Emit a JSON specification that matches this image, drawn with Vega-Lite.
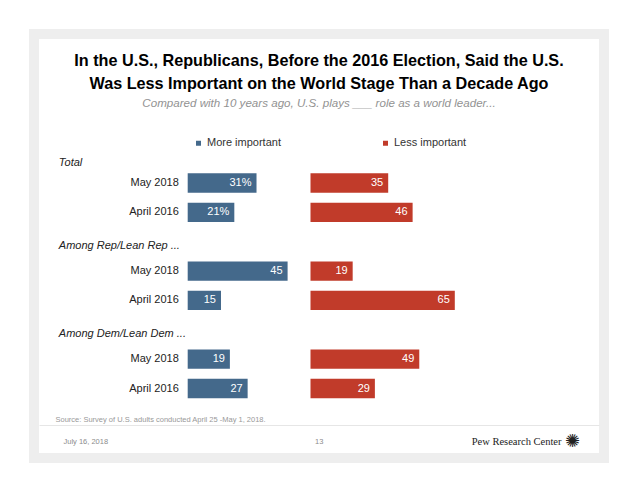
{
  "$schema": "https://vega.github.io/schema/vega-lite/v6.json",
  "width": 570,
  "height": 424,
  "autosize": {"type": "none"},
  "padding": {"left": 34, "top": 34, "right": 34, "bottom": 35},
  "background": "white",
  "config": {
    "view": {"fill": "white", "stroke": "#eeeeee", "strokeWidth": 10},
    "font": "Liberation Sans"
  },
  "title": {
    "text": ["In the U.S., Republicans, Before the 2016 Election, Said the U.S.", "Was Less Important on the World Stage Than a Decade Ago"],
    "subtitle": "Compared with 10 years ago, U.S. plays ___ role as a world leader...",
    "font": "Liberation Sans",
    "fontSize": 16.2,
    "fontWeight": "bold",
    "lineHeight": 22.5,
    "color": "#000000",
    "subtitleFont": "Liberation Sans",
    "subtitleFontSize": 11.6,
    "subtitleFontStyle": "italic",
    "subtitleColor": "#929292",
    "subtitlePadding": 6.5,
    "anchor": "middle",
    "frame": "group",
    "offset": -76
  },
  "data": {
    "values": [
      {"row": "Total|May 2018", "type": "More important", "value": 31, "label": "31%"},
      {"row": "Total|April 2016", "type": "More important", "value": 21, "label": "21%"},
      {"row": "Rep|May 2018", "type": "More important", "value": 45, "label": "45"},
      {"row": "Rep|April 2016", "type": "More important", "value": 15, "label": "15"},
      {"row": "Dem|May 2018", "type": "More important", "value": 19, "label": "19"},
      {"row": "Dem|April 2016", "type": "More important", "value": 27, "label": "27"},
      {"row": "Total|May 2018", "type": "Less important", "value": 35, "label": "35"},
      {"row": "Total|April 2016", "type": "Less important", "value": 46, "label": "46"},
      {"row": "Rep|May 2018", "type": "Less important", "value": 19, "label": "19"},
      {"row": "Rep|April 2016", "type": "Less important", "value": 65, "label": "65"},
      {"row": "Dem|May 2018", "type": "Less important", "value": 49, "label": "49"},
      {"row": "Dem|April 2016", "type": "Less important", "value": 29, "label": "29"}
    ]
  },
  "resolve": {"scale": {"x": "independent", "y": "independent"}, "axis": {"x": "independent", "y": "independent"}},
  "layer": [
    {
      "transform": [{"filter": "datum.type === 'More important'"}],
      "encoding": {
        "y": {
          "field": "row",
          "type": "nominal",
          "scale": {
            "domain": ["Total", "Total|May 2018", "Total|April 2016", "Among Rep/Lean Rep ...", "Rep|May 2018", "Rep|April 2016", "Among Dem/Lean Dem ...", "Dem|May 2018", "Dem|April 2016"],
            "range": [104.96, 369.18],
            "paddingInner": 0.343,
            "paddingOuter": 0.1715
          },
          "axis": {
            "orient": "left",
            "offset": -148.3,
            "title": null,
            "domain": false,
            "ticks": false,
            "tickSize": 0,
            "grid": false,
            "labelFont": "Liberation Sans",
            "labelFontSize": 11,
            "labelLimit": 300,
            "labelColor": "#222222",
            "labelBaseline": "middle",
            "labelExpr": "indexof(datum.value, '|') >= 0 ? split(datum.value, '|')[1] : datum.value",
            "labelAlign": {"condition": {"test": "indexof(datum.value, '|') < 0", "value": "left"}, "value": "right"},
            "labelPadding": {"condition": {"test": "indexof(datum.value, '|') < 0", "value": 124}, "value": 4},
            "labelFontStyle": {"condition": {"test": "indexof(datum.value, '|') < 0", "value": "italic"}, "value": "normal"},
            "labelOffset": {"condition": [{"test": "datum.value === 'Total'", "value": 9}, {"test": "indexof(datum.value, '|') < 0", "value": 4.3}], "value": 0}
          }
        },
        "x": {
          "field": "value",
          "type": "quantitative",
          "scale": {"domain": [0, 100], "range": [153.7, 375.7], "nice": false, "zero": true},
          "axis": null
        }
      },
      "layer": [
        {
          "mark": {"type": "bar"},
          "encoding": {
            "color": {
              "field": "type",
              "type": "nominal",
              "scale": {"domain": ["More important", "Less important"], "range": ["#44698b", "#c13b2a"]},
              "legend": {
                "title": null,
                "orient": "none",
                "direction": "horizontal",
                "legendX": 159,
                "legendY": 103.5,
                "padding": 0,
                "symbolType": "square",
                "symbolSize": 25,
                "symbolStrokeWidth": 0,
                "symbolOffset": 0,
                "labelOffset": 3,
                "columnPadding": 99,
                "labelFont": "Liberation Sans",
                "labelFontSize": 11,
                "labelColor": "#333333"
              }
            }
          }
        },
        {
          "mark": {"type": "text", "align": "right", "baseline": "middle", "dx": -5, "fontSize": 11, "color": "#ffffff", "font": "Liberation Sans"},
          "encoding": {"text": {"field": "label", "type": "nominal"}}
        }
      ]
    },
    {
      "transform": [{"filter": "datum.type === 'Less important'"}],
      "encoding": {
        "y": {
          "field": "row",
          "type": "nominal",
          "scale": {
            "domain": ["Total", "Total|May 2018", "Total|April 2016", "Among Rep/Lean Rep ...", "Rep|May 2018", "Rep|April 2016", "Among Dem/Lean Dem ...", "Dem|May 2018", "Dem|April 2016"],
            "range": [104.96, 369.18],
            "paddingInner": 0.343,
            "paddingOuter": 0.1715
          },
          "axis": null
        },
        "x": {
          "field": "value",
          "type": "quantitative",
          "scale": {"domain": [0, 100], "range": [276.5, 498.5], "nice": false, "zero": true},
          "axis": null
        }
      },
      "layer": [
        {
          "mark": {"type": "bar"},
          "encoding": {
            "color": {
              "field": "type",
              "type": "nominal",
              "scale": {"domain": ["More important", "Less important"], "range": ["#44698b", "#c13b2a"]}
            }
          }
        },
        {
          "mark": {"type": "text", "align": "right", "baseline": "middle", "dx": -5, "fontSize": 11, "color": "#ffffff", "font": "Liberation Sans"},
          "encoding": {"text": {"field": "label", "type": "nominal"}}
        }
      ]
    },
    {
      "data": {"values": [{"item": "July 16, 2018"}, {"item": "13"}, {"item": "Pew Research Center"}, {"item": "✺"}]},
      "mark": {"type": "point", "opacity": 0},
      "encoding": {
        "x": {
          "field": "item",
          "type": "nominal",
          "scale": {"type": "point", "domain": ["July 16, 2018", "13", "Pew Research Center", "✺"], "range": [5, 565], "padding": 0},
          "axis": {
            "orient": "bottom",
            "offset": -33,
            "domain": true,
            "domainColor": "#e6e6e6",
            "domainWidth": 1,
            "ticks": false,
            "tickSize": 0,
            "grid": false,
            "labelOverlap": false,
            "labelBound": false,
            "labelFlush": false,
            "labelPadding": 16,
            "labelBaseline": "middle",
            "labelAngle": 0,
            "labelAlign": {"condition": [{"test": "datum.value === 'July 16, 2018'", "value": "left"}, {"test": "datum.value === 'Pew Research Center'", "value": "right"}], "value": "center"},
            "labelOffset": {"condition": [{"test": "datum.value === 'July 16, 2018'", "value": 24}, {"test": "datum.value === '13'", "value": 93}, {"test": "datum.value === 'Pew Research Center'", "value": 148.7}], "value": -27},
            "labelFont": {"condition": [{"test": "datum.value === 'Pew Research Center'", "value": "Liberation Serif"}, {"test": "datum.value === '✺'", "value": "DejaVu Sans"}], "value": "Liberation Sans"},
            "labelFontSize": {"condition": [{"test": "datum.value === 'Pew Research Center'", "value": 10.5}, {"test": "datum.value === '✺'", "value": 18}], "value": 7.5},
            "labelColor": {"condition": {"test": "datum.value === 'Pew Research Center' || datum.value === '✺'", "value": "#222222"}, "value": "#8c8c8c"},
            "title": "Source: Survey of U.S. adults conducted April 25 -May 1, 2018.",
            "titleFont": "Liberation Sans",
            "titleFontSize": 7.5,
            "titleFontWeight": "normal",
            "titleColor": "#999999",
            "titleAnchor": "start",
            "titleAlign": "left",
            "titleBaseline": "middle",
            "titleX": 21,
            "titleY": -6
          }
        }
      }
    }
  ]
}
